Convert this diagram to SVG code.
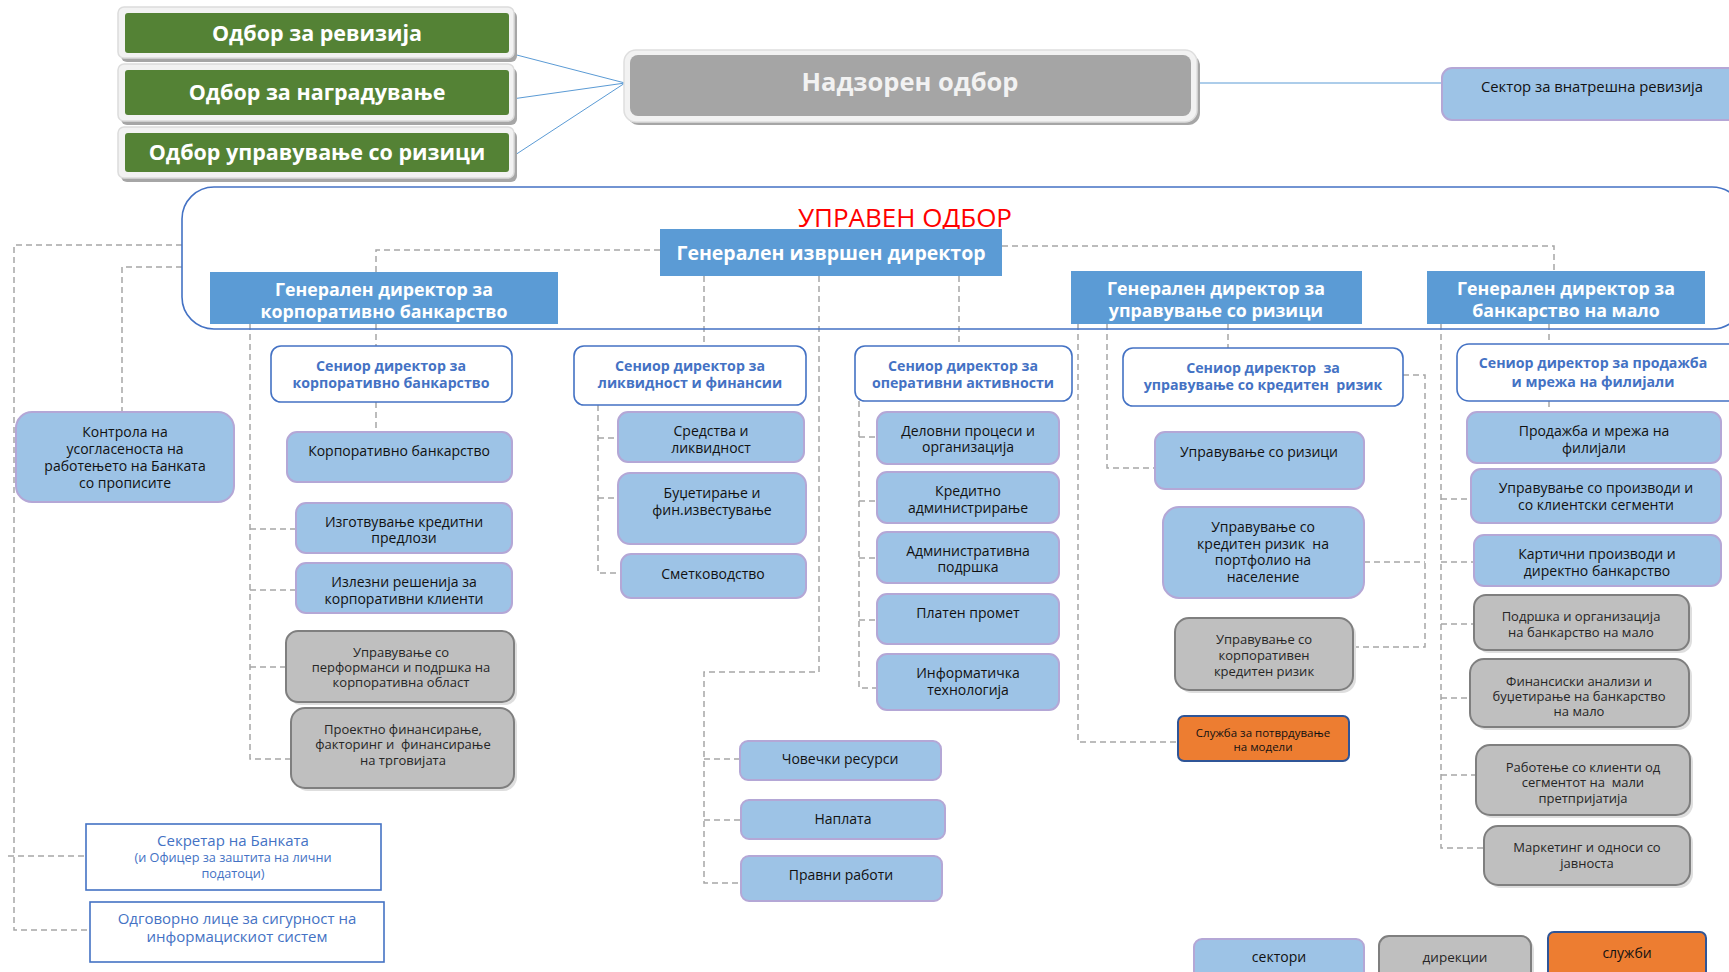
<svg xmlns="http://www.w3.org/2000/svg" width="1729" height="972" viewBox="0 0 1729 972">
<style>
text{font-family:"Open Sans","Noto Sans","DejaVu Sans",sans-serif;text-anchor:middle}
.gtx{font-size:21.5px;font-weight:700;fill:#fff}
.gdt{font-size:17.8px;font-weight:700;fill:#fff}
.sen{fill:#fff;stroke:#4472c4;stroke-width:1.6}
.snt{font-size:14.2px;font-weight:700;fill:#4472c4}
.sec{fill:#9dc3e6;stroke:#b4a7d6;stroke-width:2}
.dir{fill:#bfbfbf;stroke:#7f7f7f;stroke-width:2}
.dsh{fill:#dedede}
.srv{fill:#ed7d31;stroke:#2f5597;stroke-width:2}
.gd{fill:#5b9bd5}
.bt{font-size:14px;fill:#111}
.dt{font-size:13px;fill:#262626}
.conn path{fill:none;stroke:#a6a6a6;stroke-width:1.5;stroke-dasharray:6 4}
.blue path{fill:none;stroke:#5b9bd5;stroke-width:1}
.frm{fill:#f2f2f2;stroke:#dcdcdc;stroke-width:1.5}
.shd{fill:#a6a6a6}
.grn{fill:#548235}
.wb{fill:#fff;stroke:#4472c4;stroke-width:1.6}
.wbt{fill:#4472c4}
</style>

<g class="blue" id="board-links">
<path d="M509,53 L625,83"/>
<path d="M512,99 L625,83"/>
<path d="M515,155 L625,83"/>
<path d="M1197,83 L1441,83"/>
</g>

<g class="conn" id="connectors">
<path d="M182,245 H14 V930 H90"/>
<path d="M8,856 H86"/>
<path d="M182,267 H122 V412"/>
<path d="M660,250 H376 V272"/>
<path d="M376,324 V346"/>
<path d="M376,402 V432"/>
<path d="M250,324 V759 H291"/>
<path d="M250,529 H296"/>
<path d="M250,590 H296"/>
<path d="M250,667 H286"/>
<path d="M1002,246 H1554 V271"/>
<path d="M704,276 V346"/>
<path d="M959,276 V346"/>
<path d="M819,276 V672 H704 V883 H741"/>
<path d="M704,759 H740"/>
<path d="M704,820 H741"/>
<path d="M598,405 V573 H621"/>
<path d="M598,438 H618"/>
<path d="M598,498 H618"/>
<path d="M859,401 V688 H877"/>
<path d="M859,437 H877"/>
<path d="M859,501 H877"/>
<path d="M859,558 H877"/>
<path d="M859,620 H877"/>
<path d="M1078,324 V742 H1178"/>
<path d="M1107,324 V468 H1155"/>
<path d="M1228,324 V348"/>
<path d="M1403,375 H1425 V647 H1353"/>
<path d="M1364,562 H1425"/>
<path d="M1549,324 V344"/>
<path d="M1549,401 V412"/>
<path d="M1441,324 V848 H1484"/>
<path d="M1441,499 H1471"/>
<path d="M1441,562 H1474"/>
<path d="M1441,624 H1474"/>
<path d="M1441,698 H1470"/>
<path d="M1441,775 H1476"/>
</g>

<g id="board-frame">
<rect x="182" y="187" width="1562" height="142" rx="32" fill="none" stroke="#4472c4" stroke-width="1.6"/>
<text x="905" y="227" style="font-size:26px;fill:#ff0000">УПРАВЕН ОДБОР</text>
</g>

<g id="odbor-revizija">
<rect class="shd" x="121" y="11" width="396" height="51" rx="6"/>
<rect class="frm" x="118" y="7" width="396" height="51" rx="6"/>
<rect class="grn" x="125" y="13" width="384" height="40" rx="3"/>
<text class="gtx" x="317" y="41">Одбор за ревизија</text>
</g>
<g id="odbor-nagraduvanje">
<rect class="shd" x="121" y="68" width="396" height="57" rx="6"/>
<rect class="frm" x="118" y="64" width="396" height="57" rx="6"/>
<rect class="grn" x="125" y="70" width="384" height="45" rx="3"/>
<text class="gtx" x="317" y="100">Одбор за наградување</text>
</g>
<g id="odbor-rizici">
<rect class="shd" x="121" y="131" width="396" height="51" rx="6"/>
<rect class="frm" x="118" y="127" width="396" height="51" rx="6"/>
<rect class="grn" x="125" y="133" width="384" height="39" rx="3"/>
<text class="gtx" x="317" y="160">Одбор управување со ризици</text>
</g>

<g id="nadzoren">
<rect class="shd" x="627" y="54" width="573" height="71" rx="12"/>
<rect x="624" y="50" width="573" height="72" rx="12" fill="#f2f2f2" stroke="#dedede" stroke-width="1.5"/>
<rect x="630" y="55" width="561" height="61" rx="8" fill="#a5a5a5"/>
<text x="910" y="91" style="font-size:25.5px;font-weight:700;fill:#f2f2f2">Надзорен одбор</text>
</g>

<g id="vnatresna-revizija">
<rect class="sec" x="1442" y="68" width="300" height="52" rx="10"/>
<text x="1592" y="92" style="font-size:14.8px;fill:#111">Сектор за внатрешна ревизија</text>
</g>

<g id="ceo">
<rect class="gd" x="660" y="229" width="342" height="47"/>
<text x="831" y="260" style="font-size:19.5px;font-weight:700;fill:#fff">Генерален извршен директор</text>
</g>
<g id="gd-korp">
<rect class="gd" x="210" y="272" width="348" height="52"/>
<text class="gdt" x="384" y="296">Генерален директор за</text>
<text class="gdt" x="384" y="318">корпоративно банкарство</text>
</g>
<g id="gd-rizici">
<rect class="gd" x="1071" y="271" width="291" height="53"/>
<text class="gdt" x="1216" y="295">Генерален директор за</text>
<text class="gdt" x="1216" y="317">управување со ризици</text>
</g>
<g id="gd-malo">
<rect class="gd" x="1427" y="271" width="278" height="53"/>
<text class="gdt" x="1566" y="295">Генерален директор за</text>
<text class="gdt" x="1566" y="317">банкарство на мало</text>
</g>

<g id="sen-korp">
<rect class="sen" x="271" y="346" width="241" height="56" rx="10"/>
<text class="snt" x="391" y="371">Сениор директор за</text>
<text class="snt" x="391" y="388">корпоративно банкарство</text>
</g>
<g id="sen-likv">
<rect class="sen" x="574" y="346" width="232" height="59" rx="10"/>
<text class="snt" x="690" y="371">Сениор директор за</text>
<text class="snt" x="690" y="388">ликвидност и финансии</text>
</g>
<g id="sen-oper">
<rect class="sen" x="855" y="346" width="217" height="55" rx="10"/>
<text class="snt" x="963" y="371">Сениор директор за</text>
<text class="snt" x="963" y="388">оперативни активности</text>
</g>
<g id="sen-kred">
<rect class="sen" x="1123" y="348" width="280" height="58" rx="10"/>
<text class="snt" x="1263" y="373" xml:space="preserve">Сениор директор  за</text>
<text class="snt" x="1263" y="390" xml:space="preserve">управување со кредитен  ризик</text>
</g>
<g id="sen-prod">
<rect class="sen" x="1457" y="344" width="290" height="57" rx="12"/>
<text class="snt" x="1593" y="368">Сениор директор за продажба</text>
<text class="snt" x="1593" y="387">и мрежа на филијали</text>
</g>

<g id="kontrola">
<rect class="sec" x="16" y="412" width="218" height="90" rx="16"/>
<text class="bt" x="125" y="437">Контрола на</text>
<text class="bt" x="125" y="454">усогласеноста на</text>
<text class="bt" x="125" y="471">работењето на Банката</text>
<text class="bt" x="125" y="488">со прописите</text>
</g>

<g id="korp-bank">
<rect class="sec" x="287" y="432" width="225" height="50" rx="10"/>
<text class="bt" x="399" y="456">Корпоративно банкарство</text>
</g>
<g id="izgotvuvanje">
<rect class="sec" x="296" y="503" width="216" height="50" rx="10"/>
<text class="bt" x="404" y="527">Изготвување кредитни</text>
<text class="bt" x="404" y="543">предлози</text>
</g>
<g id="izlezni">
<rect class="sec" x="296" y="563" width="216" height="50" rx="10"/>
<text class="bt" x="404" y="587">Излезни решенија за</text>
<text class="bt" x="404" y="604">корпоративни клиенти</text>
</g>
<g id="performansi">
<rect class="dsh" x="289" y="634" width="228" height="71" rx="12"/>
<rect class="dir" x="286" y="631" width="228" height="71" rx="12"/>
<text class="dt" x="401" y="657">Управување со</text>
<text class="dt" x="401" y="672">перформанси и подршка на</text>
<text class="dt" x="401" y="687">корпоративна област</text>
</g>
<g id="proektno">
<rect class="dsh" x="294" y="711" width="223" height="80" rx="14"/>
<rect class="dir" x="291" y="708" width="223" height="80" rx="14"/>
<text class="dt" x="403" y="734">Проектно финансирање,</text>
<text class="dt" x="403" y="749" xml:space="preserve">факторинг и  финансирање</text>
<text class="dt" x="403" y="765">на трговијата</text>
</g>

<g id="sredstva">
<rect class="sec" x="618" y="412" width="186" height="50" rx="10"/>
<text class="bt" x="711" y="436">Средства и</text>
<text class="bt" x="711" y="453">ликвидност</text>
</g>
<g id="budzetiranje">
<rect class="sec" x="618" y="473" width="188" height="71" rx="12"/>
<text class="bt" x="712" y="498">Буџетирање и</text>
<text class="bt" x="712" y="515">фин.известување</text>
</g>
<g id="smetkovodstvo">
<rect class="sec" x="621" y="554" width="185" height="44" rx="10"/>
<text class="bt" x="713" y="579">Сметководство</text>
</g>

<g id="delovni">
<rect class="sec" x="877" y="412" width="182" height="52" rx="10"/>
<text class="bt" x="968" y="436">Деловни процеси и</text>
<text class="bt" x="968" y="452">организација</text>
</g>
<g id="kreditno-admin">
<rect class="sec" x="877" y="472" width="182" height="51" rx="10"/>
<text class="bt" x="968" y="496">Кредитно</text>
<text class="bt" x="968" y="513">администрирање</text>
</g>
<g id="admin-podrska">
<rect class="sec" x="877" y="532" width="182" height="51" rx="10"/>
<text class="bt" x="968" y="556">Административна</text>
<text class="bt" x="968" y="572">подршка</text>
</g>
<g id="platen">
<rect class="sec" x="877" y="594" width="182" height="50" rx="10"/>
<text class="bt" x="968" y="618">Платен промет</text>
</g>
<g id="it">
<rect class="sec" x="877" y="654" width="182" height="56" rx="10"/>
<text class="bt" x="968" y="678">Информатичка</text>
<text class="bt" x="968" y="695">технологија</text>
</g>

<g id="covecki">
<rect class="sec" x="740" y="741" width="201" height="39" rx="8"/>
<text class="bt" x="840" y="764">Човечки ресурси</text>
</g>
<g id="naplata">
<rect class="sec" x="741" y="800" width="204" height="39" rx="8"/>
<text class="bt" x="843" y="824">Наплата</text>
</g>
<g id="pravni">
<rect class="sec" x="741" y="856" width="201" height="45" rx="8"/>
<text class="bt" x="841" y="880">Правни работи</text>
</g>

<g id="upr-rizici">
<rect class="sec" x="1155" y="432" width="209" height="57" rx="10"/>
<text class="bt" x="1259" y="457">Управување со ризици</text>
</g>
<g id="portfolio">
<rect class="sec" x="1163" y="507" width="201" height="91" rx="16"/>
<text class="bt" x="1263" y="532">Управување со</text>
<text class="bt" x="1263" y="549" xml:space="preserve">кредитен ризик  на</text>
<text class="bt" x="1263" y="565">портфолио на</text>
<text class="bt" x="1263" y="582">население</text>
</g>
<g id="korp-kred">
<rect class="dsh" x="1178" y="621" width="178" height="72" rx="14"/>
<rect class="dir" x="1175" y="618" width="178" height="72" rx="14"/>
<text class="dt" x="1264" y="644">Управување со</text>
<text class="dt" x="1264" y="660">корпоративен</text>
<text class="dt" x="1264" y="676">кредитен ризик</text>
</g>
<g id="sluzba-modeli">
<rect class="srv" x="1178" y="716" width="171" height="45" rx="6"/>
<text x="1263" y="737" style="font-size:11.5px;fill:#111">Служба за потврдување</text>
<text x="1263" y="751" style="font-size:11.5px;fill:#111">на модели</text>
</g>

<g id="prodazba">
<rect class="sec" x="1467" y="412" width="254" height="51" rx="10"/>
<text class="bt" x="1594" y="436">Продажба и мрежа на</text>
<text class="bt" x="1594" y="453">филијали</text>
</g>
<g id="proizvodi">
<rect class="sec" x="1471" y="469" width="250" height="54" rx="10"/>
<text class="bt" x="1596" y="493">Управување со производи и</text>
<text class="bt" x="1596" y="510">со клиентски сегменти</text>
</g>
<g id="karticni">
<rect class="sec" x="1474" y="535" width="247" height="51" rx="10"/>
<text class="bt" x="1597" y="559">Картични производи и</text>
<text class="bt" x="1597" y="576">директно банкарство</text>
</g>
<g id="podrska-malo">
<rect class="dsh" x="1477" y="598" width="215" height="55" rx="12"/>
<rect class="dir" x="1474" y="595" width="215" height="55" rx="12"/>
<text class="dt" x="1581" y="621">Подршка и организација</text>
<text class="dt" x="1581" y="637">на банкарство на мало</text>
</g>
<g id="finansiski">
<rect class="dsh" x="1473" y="662" width="219" height="68" rx="14"/>
<rect class="dir" x="1470" y="659" width="219" height="68" rx="14"/>
<text class="dt" x="1579" y="686">Финансиски анализи и</text>
<text class="dt" x="1579" y="701">буџетирање на банкарство</text>
<text class="dt" x="1579" y="716">на мало</text>
</g>
<g id="mali-pretprijatija">
<rect class="dsh" x="1479" y="748" width="214" height="70" rx="14"/>
<rect class="dir" x="1476" y="745" width="214" height="70" rx="14"/>
<text class="dt" x="1583" y="772">Работење со клиенти од</text>
<text class="dt" x="1583" y="787" xml:space="preserve">сегментот на  мали</text>
<text class="dt" x="1583" y="803">претпријатија</text>
</g>
<g id="marketing">
<rect class="dsh" x="1487" y="829" width="206" height="59" rx="14"/>
<rect class="dir" x="1484" y="826" width="206" height="59" rx="14"/>
<text class="dt" x="1587" y="852">Маркетинг и односи со</text>
<text class="dt" x="1587" y="868">јавноста</text>
</g>

<g id="sekretar">
<rect class="wb" x="86" y="824" width="295" height="66"/>
<text class="wbt" x="233" y="846" style="font-size:15px">Секретар на Банката</text>
<text class="wbt" x="233" y="862" style="font-size:12.7px">(и Офицер за заштита на лични</text>
<text class="wbt" x="233" y="878" style="font-size:12.7px">податоци)</text>
</g>
<g id="odgovorno">
<rect class="wb" x="90" y="902" width="294" height="60"/>
<text class="wbt" x="237" y="924" style="font-size:15px">Одговорно лице за сигурност на</text>
<text class="wbt" x="237" y="942" style="font-size:15px">информацискиот систем</text>
</g>

<g id="legend-sektori">
<rect class="sec" x="1194" y="939" width="170" height="42" rx="8"/>
<text x="1279" y="962" style="font-size:14px;fill:#111">сектори</text>
</g>
<g id="legend-direkcii">
<rect class="dsh" x="1382" y="939" width="152" height="45" rx="10"/>
<rect class="dir" x="1379" y="936" width="152" height="45" rx="10"/>
<text x="1455" y="962" style="font-size:13.5px;fill:#262626">дирекции</text>
</g>
<g id="legend-sluzbi">
<rect class="srv" x="1548" y="932" width="158" height="48" rx="6"/>
<text x="1627" y="958" style="font-size:14px;fill:#111">служби</text>
</g>
</svg>
